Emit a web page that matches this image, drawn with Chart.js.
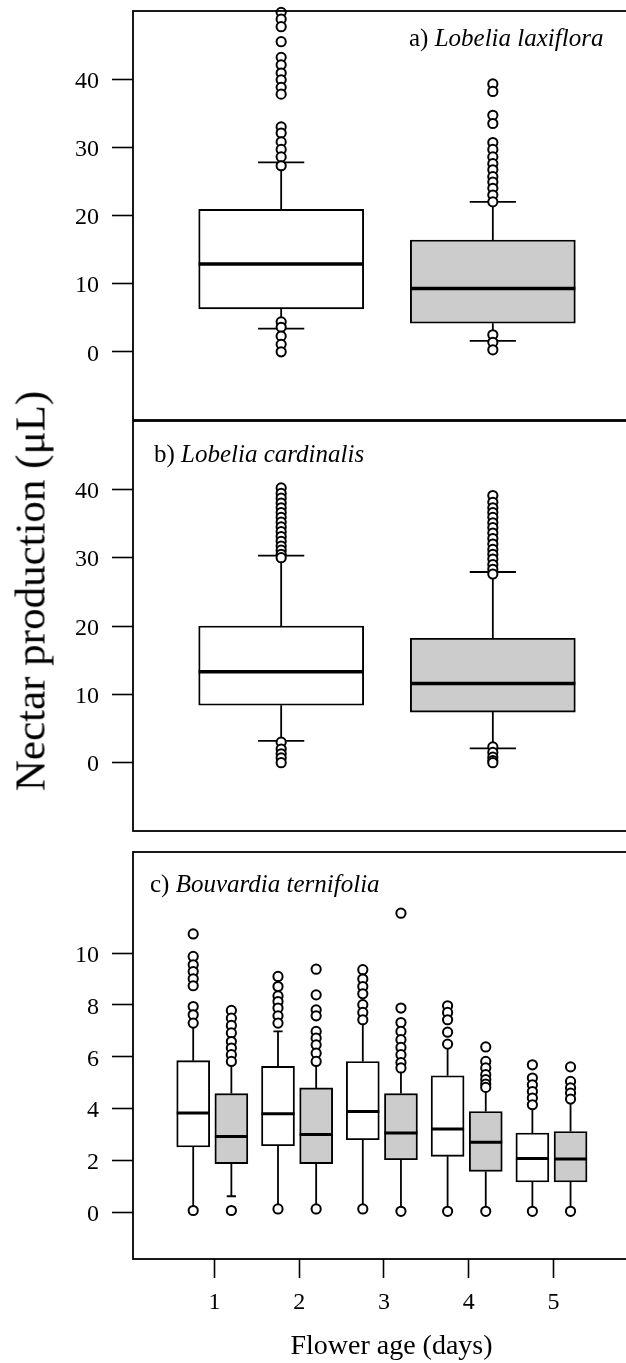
<!DOCTYPE html>
<html>
<head>
<meta charset="utf-8">
<script src="https://cdn.jsdelivr.net/npm/chart.js@4.4.0/dist/chart.umd.min.js"></script>
<style>
    html, body { margin: 0; padding: 0; background: #fff; overflow: hidden; }
    #page { position: relative; width: 626px; height: 1363px; overflow: hidden; background: #fff; }
    canvas { position: absolute; left: 0; }
    #chartA { top: 0; }
    #chartB { top: 410px; }
    #chartC { top: 840px; }
    .panel-label {
        position: absolute;
        font-family: "Liberation Serif", "Times New Roman", serif;
        font-size: 25px;
        line-height: 25px;
        white-space: nowrap;
        color: #000;
    }
    #yTitle {
        position: absolute;
        left: 29.5px;
        top: 591px;
        transform: translate(-50%, -50%) rotate(-90deg);
        font-family: "Liberation Serif", "Times New Roman", serif;
        font-size: 43px;
        white-space: nowrap;
        color: #000;
    }
</style>
</head>
<body>
<div id="page">
    <canvas id="chartA" width="642" height="421"></canvas>
    <canvas id="chartB" width="642" height="422"></canvas>
    <canvas id="chartC" width="651" height="523"></canvas>
    <div class="panel-label" style="left:409px; top:25px;">a) <i>Lobelia laxiflora</i></div>
    <div class="panel-label" style="left:154px; top:441px;">b) <i>Lobelia cardinalis</i></div>
    <div class="panel-label" style="left:150px; top:871px;">c) <i>Bouvardia ternifolia</i></div>
    <div id="yTitle">Nectar production (μL)</div>
</div>
<script>
// ---- data ----
const abTicks = [0, 10, 20, 30, 40];
const abGroups = [1, 2];

// a) Lobelia laxiflora (white box, grey box)
const laxLow = [3.4, 1.6];
const laxQ1 = [6.3, 4.2];
const laxMedian = [12.9, 9.3];
const laxQ3 = [20.9, 16.4];
const laxHigh = [27.8, 22.0];
const laxOutWhite = [49.8, 48.8, 47.7, 45.5, 43.2, 42.1, 40.9, 39.9, 38.8, 37.8, 33.0, 32.1, 30.8, 29.7, 28.6, 27.3, 4.4, 3.6, 2.3, 1.1, 0.0];
const laxOutGrey = [39.3, 38.2, 34.7, 33.5, 30.7, 29.7, 28.6, 27.6, 26.7, 25.7, 24.9, 24.0, 23.0, 22.0, 2.5, 1.4, 0.3];

// b) Lobelia cardinalis
const cardLow = [3.2, 2.1];
const cardQ1 = [8.4, 7.4];
const cardMedian = [13.3, 11.6];
const cardQ3 = [20.0, 18.2];
const cardHigh = [30.3, 27.9];
const cardOutWhite = [40.2, 39.4, 38.7, 38.0, 37.3, 36.6, 35.9, 35.2, 34.5, 33.8, 33.1, 32.4, 31.7, 31.1, 30.5, 30.0, 3.0, 2.0, 1.3, 0.7, 0.0];
const cardOutGrey = [39.1, 38.1, 37.3, 36.6, 35.9, 35.1, 34.4, 33.6, 32.8, 32.0, 31.2, 30.5, 29.8, 29.0, 28.3, 27.6, 2.3, 1.5, 0.8, 0.3, 0.0];

// c) Bouvardia ternifolia, by flower age (days)
const bouvDays = [1, 2, 3, 4, 5];
const bouvTicks = [0, 2, 4, 6, 8, 10];
const bouvWhiteLow = [0.07, 0.13, 0.13, 0.04, 0.04];
const bouvWhiteQ1 = [2.52, 2.57, 2.80, 2.16, 1.17];
const bouvWhiteMedian = [3.83, 3.80, 3.89, 3.21, 2.08];
const bouvWhiteQ3 = [5.85, 5.63, 5.82, 5.27, 3.06];
const bouvWhiteHigh = [7.35, 6.98, 7.43, 6.49, 4.15];
const bouvWhiteOut = [
    [10.74, 9.87, 9.55, 9.29, 9.01, 8.74, 7.94, 7.62, 7.30, 0.07],
    [9.10, 8.71, 8.35, 8.13, 7.88, 7.58, 7.30, 0.13],
    [9.36, 9.00, 8.71, 8.43, 8.01, 7.71, 7.43, 0.13],
    [7.97, 7.71, 7.43, 6.95, 6.49, 0.04],
    [5.69, 5.18, 4.92, 4.66, 4.41, 4.15, 0.04]
];
const bouvGreyLow = [0.62, 0.13, 0.04, 0.04, 0.04];
const bouvGreyQ1 = [1.88, 1.88, 2.03, 1.58, 1.17];
const bouvGreyMedian = [2.93, 3.00, 3.06, 2.70, 2.06];
const bouvGreyQ3 = [4.58, 4.80, 4.58, 3.89, 3.12];
const bouvGreyHigh = [5.82, 5.82, 5.57, 4.82, 4.37];
const bouvGreyOut = [
    [7.79, 7.49, 7.21, 6.92, 6.59, 6.34, 6.08, 5.82, 0.07],
    [9.38, 8.39, 7.81, 7.58, 6.98, 6.72, 6.46, 6.14, 5.82, 0.13],
    [11.54, 7.88, 7.32, 6.98, 6.66, 6.36, 6.08, 5.78, 5.57, 0.04],
    [6.38, 5.82, 5.57, 5.31, 5.12, 4.95, 4.82, 0.04],
    [5.61, 5.05, 4.80, 4.60, 4.37, 0.04]
];

const FONT = '"Liberation Serif", "Times New Roman", serif';
const WHITE = '#ffffff';
const GREY = '#cccccc';

// whiskers, caps, medians and the frame, drawn through the chart scales
function boxPartsPlugin(boxes, boxWidth, medianWidth) {
    const capWidth = boxWidth * 0.28;
    return {
        id: 'boxParts',
        beforeDatasetsDraw(chart) {
            const ctx = chart.ctx;
            const xs = chart.scales.x, ys = chart.scales.y;
            ctx.save();
            ctx.strokeStyle = '#000';
            ctx.lineWidth = 1.8;
            boxes.forEach(b => {
                const x = xs.getPixelForValue(b.x);
                ctx.beginPath();
                ctx.moveTo(x, ys.getPixelForValue(b.q3));
                ctx.lineTo(x, ys.getPixelForValue(b.hi));
                ctx.moveTo(x, ys.getPixelForValue(b.q1));
                ctx.lineTo(x, ys.getPixelForValue(b.lo));
                [b.hi, b.lo].forEach(v => {
                    const y = ys.getPixelForValue(v);
                    ctx.moveTo(x - capWidth / 2, y);
                    ctx.lineTo(x + capWidth / 2, y);
                });
                ctx.stroke();
            });
            ctx.restore();
        },
        afterDatasetsDraw(chart) {
            const ctx = chart.ctx;
            const xs = chart.scales.x, ys = chart.scales.y;
            ctx.save();
            ctx.strokeStyle = '#000';
            ctx.lineWidth = medianWidth;
            boxes.forEach(b => {
                const x = xs.getPixelForValue(b.x);
                const y = ys.getPixelForValue(b.med);
                ctx.beginPath();
                ctx.moveTo(x - boxWidth / 2, y);
                ctx.lineTo(x + boxWidth / 2, y);
                ctx.stroke();
            });
            const a = chart.chartArea;
            ctx.lineWidth = 1.8;
            ctx.strokeRect(a.left, a.top, a.right - a.left, a.bottom - a.top);
            ctx.restore();
        }
    };
}

function noEdgePadding(axis) {
    axis.paddingTop = 0;
    axis.paddingBottom = 0;
    axis.paddingLeft = 0;
    axis.paddingRight = 0;
}

function makeBoxChart(canvasId, cfg) {
    const boxes = cfg.boxes;
    const outliers = [];
    boxes.forEach(b => b.out.forEach(v => outliers.push({ x: b.x, y: v })));

    const tickFont = { family: FONT, size: 24 };

    return new Chart(document.getElementById(canvasId), {
        type: 'bar',
        data: {
            datasets: [
                {
                    type: 'scatter',
                    data: outliers,
                    pointStyle: 'circle',
                    pointRadius: 4.6,
                    pointBackgroundColor: '#fff',
                    pointBorderColor: '#000',
                    pointBorderWidth: 2,
                    clip: false,
                    order: 0
                },
                {
                    type: 'bar',
                    data: boxes.map(b => ({ x: b.x, y: [b.q1, b.q3] })),
                    backgroundColor: boxes.map(b => b.fill),
                    borderColor: '#000',
                    borderWidth: 1.9,
                    borderSkipped: false,
                    barThickness: cfg.boxWidth,
                    order: 1
                }
            ]
        },
        options: {
            responsive: false,
            animation: false,
            events: [],
            layout: { padding: cfg.padding, autoPadding: false },
            plugins: {
                legend: { display: false },
                tooltip: { enabled: false },
                title: { display: false }
            },
            scales: {
                x: {
                    type: 'linear',
                    min: cfg.xMin,
                    max: cfg.xMax,
                    offset: false,
                    display: cfg.xTitle ? true : false,
                    afterBuildTicks: axis => { axis.ticks = (cfg.xTicks || []).map(v => ({ value: v })); },
                    afterFit: axis => {
                        noEdgePadding(axis);
                        if (cfg.xTitle) axis.height = cfg.xAxisHeight;
                    },
                    grid: { offset: false, drawOnChartArea: false, tickLength: 19, tickColor: '#000', tickWidth: 1.6 },
                    border: { display: false },
                    ticks: { color: '#000', font: tickFont, padding: 10, maxRotation: 0, autoSkip: false },
                    title: {
                        display: !!cfg.xTitle,
                        text: cfg.xTitle || '',
                        color: '#000',
                        font: { family: FONT, size: 28 },
                        padding: { top: 0, bottom: 0 }
                    }
                },
                y: {
                    type: 'linear',
                    min: cfg.yMin,
                    max: cfg.yMax,
                    afterBuildTicks: axis => { axis.ticks = cfg.yTicks.map(v => ({ value: v })); },
                    afterFit: axis => {
                        noEdgePadding(axis);
                        axis.width = 133;
                    },
                    grid: { drawOnChartArea: false, tickLength: 21, tickColor: '#000', tickWidth: 1.6 },
                    border: { display: false },
                    ticks: { color: '#000', font: tickFont, padding: 13, labelOffset: 2.5 }
                }
            }
        },
        plugins: [boxPartsPlugin(boxes, cfg.boxWidth, cfg.medianWidth)]
    });
}

function twoBoxes(low, q1, med, q3, high, outWhite, outGrey) {
    const fills = [WHITE, GREY];
    const outs = [outWhite, outGrey];
    return abGroups.map((g, i) => ({
        x: g, lo: low[i], q1: q1[i], med: med[i], q3: q3[i], hi: high[i], fill: fills[i], out: outs[i]
    }));
}

document.addEventListener('DOMContentLoaded', function() {
    // panel a
    makeBoxChart('chartA', {
        boxes: twoBoxes(laxLow, laxQ1, laxMedian, laxQ3, laxHigh, laxOutWhite, laxOutGrey),
        boxWidth: 165, medianWidth: 3.5,
        xMin: 0.3, xMax: 2.7,
        yMin: -10, yMax: 50, yTicks: abTicks,
        padding: { left: 0, top: 11, right: 1, bottom: 1 }
    });

    // panel b
    makeBoxChart('chartB', {
        boxes: twoBoxes(cardLow, cardQ1, cardMedian, cardQ3, cardHigh, cardOutWhite, cardOutGrey),
        boxWidth: 165, medianWidth: 3.5,
        xMin: 0.3, xMax: 2.7,
        yMin: -10, yMax: 50, yTicks: abTicks,
        padding: { left: 0, top: 11, right: 1, bottom: 1 }
    });

    // panel c
    const bouvBoxes = [];
    bouvDays.forEach((d, i) => {
        bouvBoxes.push({ x: d - 0.25, lo: bouvWhiteLow[i], q1: bouvWhiteQ1[i], med: bouvWhiteMedian[i],
            q3: bouvWhiteQ3[i], hi: bouvWhiteHigh[i], fill: WHITE, out: bouvWhiteOut[i] });
        bouvBoxes.push({ x: d + 0.2, lo: bouvGreyLow[i], q1: bouvGreyQ1[i], med: bouvGreyMedian[i],
            q3: bouvGreyQ3[i], hi: bouvGreyHigh[i], fill: GREY, out: bouvGreyOut[i] });
    });
    makeBoxChart('chartC', {
        boxes: bouvBoxes,
        boxWidth: 33, medianWidth: 3,
        xMin: 0.04, xMax: 6.137, xTicks: bouvDays,
        xTitle: 'Flower age (days)', xAxisHeight: 104,
        yMin: -1.8, yMax: 13.9, yTicks: bouvTicks,
        padding: { left: 0, top: 12, right: 1, bottom: 0 }
    });
});
</script>
</body>
</html>
